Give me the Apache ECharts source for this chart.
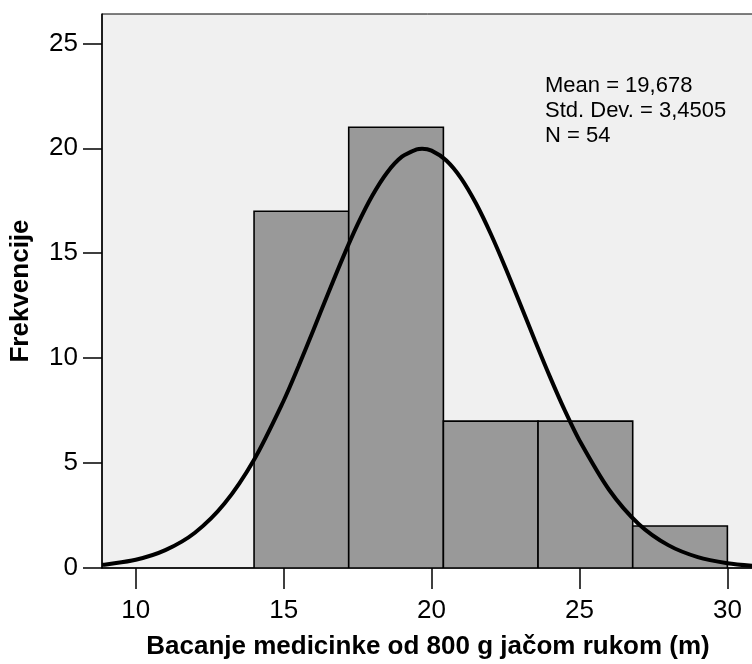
<!DOCTYPE html>
<html><head><meta charset="utf-8">
<script src="https://cdn.jsdelivr.net/npm/echarts@6/dist/echarts.min.js"></script>
<style>html,body{margin:0;padding:0;background:#fff}#c{width:752px;height:664px}</style>
</head><body><div id="c"></div>
<script>
// Histogram bins
var binStarts = [14, 17.2, 20.4, 23.6, 26.8];
var binEnds   = [17.2, 20.4, 23.6, 26.8, 30];
var counts    = [17, 21, 7, 7, 2];
// Normal curve points
var curveX = [8.86, 9, 10, 11, 12, 13, 14, 15, 15.5, 16, 16.5, 17, 17.5, 18, 18.5, 19, 19.5, 19.68, 20, 20.5, 21, 21.5, 22, 22.5, 23, 23.5, 24, 24.5, 25, 26, 27, 28, 29, 30, 30.9];
var curveY = [0.15, 0.17, 0.39, 0.85, 1.68, 3.07, 5.16, 7.97, 9.60, 11.32, 13.07, 14.78, 16.37, 17.75, 18.85, 19.60, 19.95, 19.98, 19.89, 19.42, 18.57, 17.38, 15.93, 14.30, 12.57, 10.82, 9.12, 7.52, 6.08, 3.73, 2.10, 1.09, 0.52, 0.23, 0.10];
var xTicks = [10, 15, 20, 25, 30];
var yTicks = [0, 5, 10, 15, 20, 25];
var statLines = ['Mean = 19,678', 'Std. Dev. = 3,4505', 'N = 54'];

var barData = binStarts.map(function (s, i) { return [s, binEnds[i], counts[i]]; });
var curveData = curveX.map(function (x, i) { return [x, curveY[i]]; });
var font = '"Liberation Sans", Arial, Helvetica, sans-serif';

var chart = echarts.init(document.getElementById('c'), null, {renderer: 'canvas'});
chart.setOption({
  backgroundColor: '#ffffff',
  animation: false,
  grid: {left: 102, top: 14, right: -2, bottom: 96, outerBoundsMode: 'none', containLabel: false, show: true, backgroundColor: '#f0f0f0', borderColor: '#000', borderWidth: 1},
  xAxis: {
    type: 'value', min: 8.86, max: 30.9,
    name: 'Bacanje medicinke od 800 g jačom rukom (m)', nameLocation: 'middle', nameGap: 66,
    nameTextStyle: {fontFamily: font, fontWeight: 'bold', fontSize: 26, color: '#000'},
    axisLine: {show: true, onZero: false, lineStyle: {color: '#000', width: 1.5}},
    axisTick: {show: true, length: 21, customValues: xTicks, lineStyle: {color: '#000', width: 1.5}},
    axisLabel: {customValues: xTicks, fontFamily: font, fontSize: 26, color: '#000', margin: 30},
    splitLine: {show: false}
  },
  yAxis: {
    type: 'value', min: 0, max: 26.4,
    name: 'Frekvencije', nameLocation: 'middle', nameGap: 68,
    nameTextStyle: {fontFamily: font, fontWeight: 'bold', fontSize: 26, color: '#000'},
    axisLine: {show: true, lineStyle: {color: '#000', width: 1.5}},
    axisTick: {show: true, length: 19, customValues: yTicks, lineStyle: {color: '#000', width: 1.5}},
    axisLabel: {customValues: yTicks, fontFamily: font, fontSize: 26, color: '#000', margin: 24},
    splitLine: {show: false}
  },
  series: [
    {
      type: 'custom',
      data: barData,
      clip: true,
      renderItem: function (params, api) {
        var p0 = api.coord([api.value(0), api.value(2)]);
        var p1 = api.coord([api.value(1), 0]);
        return {
          type: 'rect',
          shape: {x: p0[0], y: p0[1], width: p1[0] - p0[0], height: p1[1] - p0[1]},
          style: {fill: '#999999', stroke: '#000', lineWidth: 1.6}
        };
      },
      z: 2
    },
    {
      type: 'line',
      data: curveData,
      smooth: 0.3,
      showSymbol: false,
      symbol: 'none',
      clip: true,
      lineStyle: {color: '#000', width: 4},
      z: 3
    }
  ],
  graphic: [{
    type: 'text', left: 545, top: 73, z: 10,
    style: {text: statLines.join('\n'), font: '22px ' + font, fill: '#000', lineHeight: 25}
  }]
});
</script></body></html>
